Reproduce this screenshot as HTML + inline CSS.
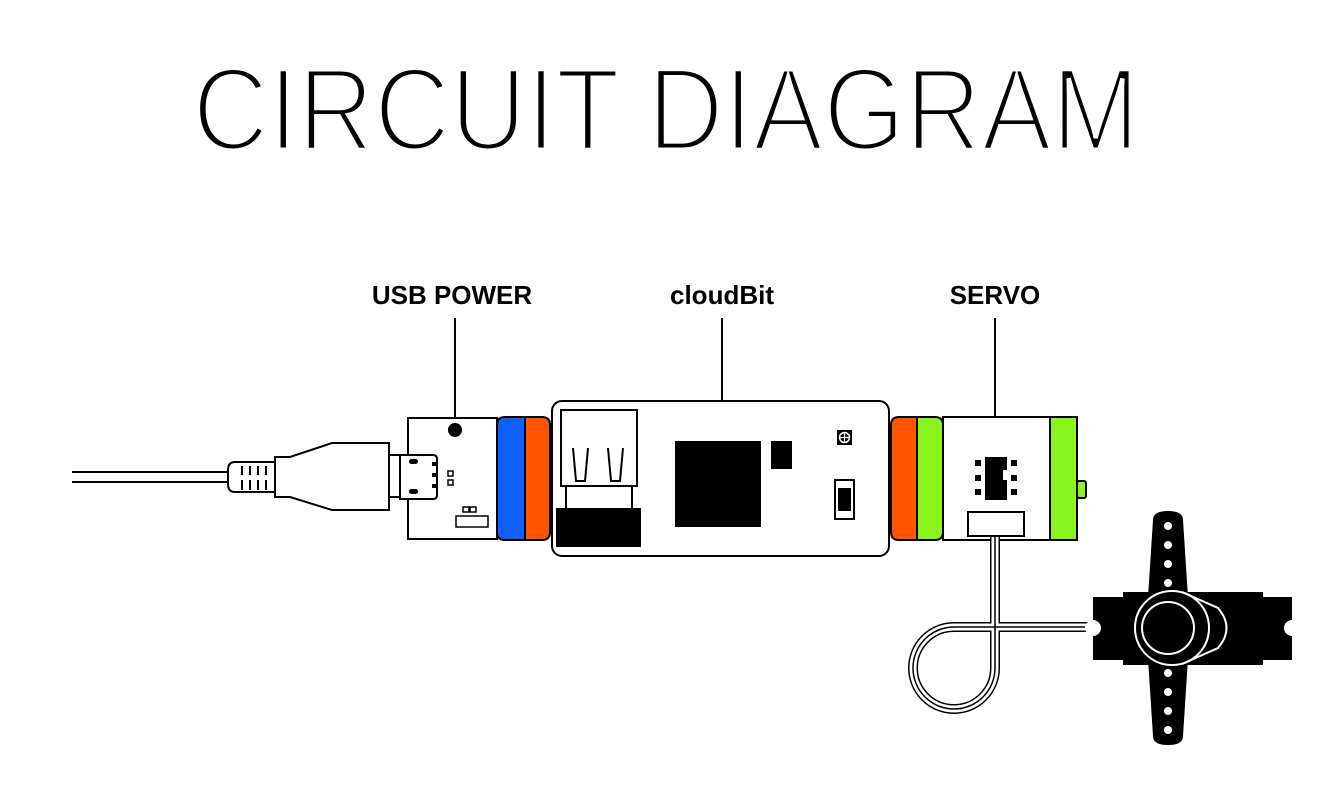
<!DOCTYPE html>
<html><head><style>body{margin:0;background:#fff}svg{display:block}</style></head><body>
<svg width="1341" height="809" viewBox="0 0 1341 809" xmlns="http://www.w3.org/2000/svg" font-family="Liberation Sans, sans-serif">
<rect width="1341" height="809" fill="#fff"/>
<text x="666" y="150" font-size="118" text-anchor="middle" textLength="947" lengthAdjust="spacingAndGlyphs" fill="#000" stroke="#fff" stroke-width="5">CIRCUIT DIAGRAM</text>
<g font-size="26" font-weight="bold" text-anchor="middle">
<text x="452" y="304">USB POWER</text>
<text x="722" y="304">cloudBit</text>
<text x="995" y="304">SERVO</text>
</g>
<g stroke="#000" stroke-width="2">
<line x1="455" y1="318" x2="455" y2="430"/>
<line x1="722" y1="318" x2="722" y2="430"/>
<line x1="995" y1="318" x2="995" y2="430"/>
</g>
<!-- cable -->
<g stroke="#000" stroke-width="2" fill="#fff">
<line x1="72" y1="472" x2="232" y2="472"/>
<line x1="72" y1="482" x2="232" y2="482"/>
<path d="M235,462 H275 V492 H235 Q228,492 228,484 V470 Q228,462 235,462 Z"/>
<path d="M242,466 V475 M250,466 V475 M258,466 V475 M266,466 V475 M242,480 V490 M250,480 V490 M258,480 V490 M266,480 V490" fill="none"/>
<path d="M275,457 H290 L332,443 H389 V510 H332 L290,497 H275 Z"/>
<rect x="389" y="455" width="12" height="42"/>
<rect x="408" y="418" width="89" height="121"/>
<path d="M400,455 H433 Q437,455 437,459 V495 Q437,499 433,499 H400 Z"/>
</g>
<g fill="#000">
<rect x="409" y="459" width="9" height="5" rx="2.5"/>
<rect x="409" y="489" width="9" height="5" rx="2.5"/>
<rect x="432" y="462" width="4" height="4"/><rect x="432" y="473" width="4" height="4"/><rect x="432" y="484" width="4" height="4"/>
<circle cx="455" cy="430" r="7"/>
<circle cx="722" cy="430" r="7"/>
<circle cx="995" cy="430" r="7"/>
</g>
<g stroke="#000" stroke-width="1.5" fill="#fff">
<rect x="448" y="471" width="5" height="5"/><rect x="448" y="480" width="5" height="5"/>
<rect x="463" y="507" width="6" height="5"/><rect x="470" y="507" width="6" height="5"/>
<rect x="456" y="516" width="32" height="11"/>
</g>
<g stroke="#000" stroke-width="2">
<path d="M505,417 H525 V540 H505 Q497,540 497,532 V425 Q497,417 505,417 Z" fill="#1060ff"/>
<path d="M525,417 H542 Q550,417 550,425 V532 Q550,540 542,540 H525 Z" fill="#ff5400"/>
<path d="M899,417 H917 V540 H899 Q891,540 891,532 V425 Q891,417 899,417 Z" fill="#ff5400"/>
<path d="M917,417 H935 Q943,417 943,425 V532 Q943,540 935,540 H917 Z" fill="#88f51e"/>
<rect x="943" y="417" width="107" height="123" fill="#fff"/>
<path d="M1050,417 H1077 V540 H1050 Z" fill="#88f51e"/>
<rect x="1077" y="481" width="9" height="17" rx="2" fill="#88f51e"/>
<rect x="552" y="401" width="337" height="155" rx="10" fill="#fff"/>
<rect x="561" y="410" width="76" height="76" fill="#fff"/>
<path d="M566,486 V510 M632,486 V510" fill="none"/>
<path d="M573,448 L576,481 H585 L588,448 M608,448 L611,481 H620 L623,448" fill="none"/>
<rect x="835" y="480" width="19" height="39" fill="#fff"/>
</g>
<g fill="#000">
<rect x="556" y="508" width="85" height="39"/>
<rect x="675" y="441" width="86" height="86"/>
<rect x="771" y="441" width="21" height="28"/>
<rect x="838" y="488" width="13" height="23"/>
<rect x="837" y="430" width="15" height="15"/>
</g>
<circle cx="844.5" cy="437.5" r="5" fill="none" stroke="#fff" stroke-width="1.5"/>
<path d="M844.5,432 V443 M839,437.5 H850" stroke="#fff" stroke-width="1.2"/>
<g fill="#000">
<path d="M985,457 H1007 V470 H1003 V480 H1007 V500 H985 Z"/>
<rect x="975" y="460" width="6" height="6"/><rect x="975" y="475" width="6" height="6"/><rect x="975" y="489" width="6" height="6"/>
<rect x="1011" y="460" width="6" height="6"/><rect x="1011" y="475" width="6" height="6"/><rect x="1011" y="489" width="6" height="6"/>
</g>
<g fill="none">
<path d="M995,536 V668 A41,41 0 0 1 913,668 A41,41 0 0 1 954,627 H1108" stroke="#000" stroke-width="10"/>
<path d="M995,536 V668 A41,41 0 0 1 913,668 A41,41 0 0 1 954,627 H1108" stroke="#fff" stroke-width="7"/>
<path d="M995,536 V668 A41,41 0 0 1 913,668 A41,41 0 0 1 954,627 H1108" stroke="#000" stroke-width="1.5"/>
</g>
<rect x="968" y="512" width="56" height="24" fill="#fff" stroke="#000" stroke-width="2"/>
<g fill="#000">
<rect x="1093" y="597" width="199" height="63"/>
<rect x="1123" y="592" width="140" height="73"/>
<path d="M1153,520 Q1153,511 1168,511 Q1183,511 1183,520 L1190,628 L1183,736 Q1183,745 1168,745 Q1153,745 1153,736 L1146,628 Z"/>
</g>
<g fill="#fff">
<circle cx="1093" cy="628" r="8"/><circle cx="1292" cy="628" r="8"/>
<circle cx="1168" cy="526" r="4"/><circle cx="1168" cy="545" r="4"/><circle cx="1168" cy="564" r="4"/><circle cx="1168" cy="583" r="4"/>
<circle cx="1168" cy="673" r="4"/><circle cx="1168" cy="692" r="4"/><circle cx="1168" cy="711" r="4"/><circle cx="1168" cy="730" r="4"/>
</g>
<g fill="none" stroke="#fff" stroke-width="2">
<path d="M1182,592 L1218,608 Q1235,628 1218,648 L1182,664"/>
<circle cx="1172" cy="628" r="37"/>
<circle cx="1168" cy="628" r="26"/>
</g>
</svg>
</body></html>
